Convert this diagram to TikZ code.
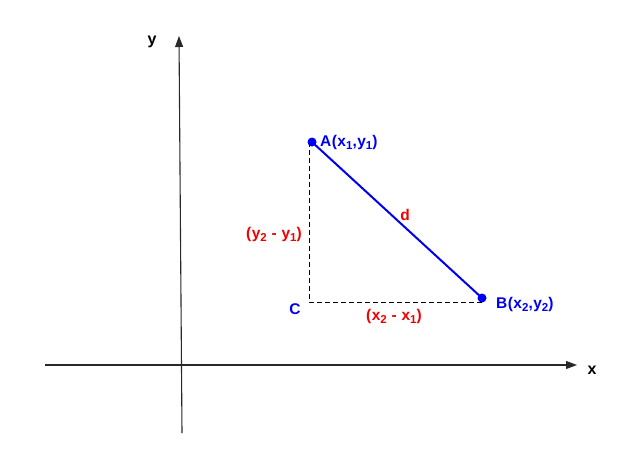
\documentclass[tikz,border=0pt]{standalone}
\usepackage{fontspec}
\setmainfont{Liberation Sans}[LetterSpace=3]
\usetikzlibrary{arrows.meta}
\definecolor{ptblue}{RGB}{0,0,240}
\definecolor{ptred}{RGB}{240,0,0}
\definecolor{axisgray}{RGB}{40,40,40}
\newcommand\sbs[1]{\raisebox{-0.2em}{\fontsize{11.5}{11.5}\selectfont\bfseries #1}}
\tikzset{
  axis/.style={draw=axisgray, line width=1.1pt, -{Triangle[length=11pt,width=8pt]}},
  dot/.style={circle, fill=ptblue, inner sep=0pt, minimum size=9pt},
  seg/.style={draw=ptblue, line width=2pt},
  dashline/.style={draw=black, line width=0.9pt, dash pattern=on 5pt off 3pt},
  lbl/.style={font=\fontsize{15.5}{17}\selectfont\bfseries, inner sep=0pt},
  bl/.style={lbl, text=ptblue},
  rl/.style={lbl, text=ptred},
  kl/.style={lbl, text=black, font=\fontsize{16}{18}\selectfont\bfseries},
}
\begin{document}
\begin{tikzpicture}[x=1pt, y=-1pt]
\useasboundingbox (0,0) rectangle (627,448);
% axes
\coordinate (yb) at (182,433);
\coordinate (yt) at (179,36);
\coordinate (xl) at (45,365);
\coordinate (xr) at (577,365);
\draw[axis] (yb) -- (yt);
\draw[axis] (xl) -- (xr);
\node[kl] (ylab) at (152,42) {y};
\node[kl] (xlab) at (592,370) {x};
% points
\coordinate (C) at (309,302);
\node[dot] (A) at (312,142) {};
\node[dot] (B) at (482,298) {};
\draw[dashline] (A.center -| C) -- (C) -- (C -| B.center);
\draw[seg] (A.center) -- (B.center);
% labels
\node[bl, anchor=west] (Alab) at (320,142) {A(x\sbs{1},y\sbs{1})};
\node[bl, anchor=west] (Blab) at (496,304) {B(x\sbs{2},y\sbs{2})};
\node[bl] (Clab) at (295,309) {C};
\node[rl] (dlab) at (405,215) {d};
\node[rl] (ylen) at (274,234) {(y\sbs{2} - y\sbs{1})};
\node[rl] (xlen) at (394,316) {(x\sbs{2} - x\sbs{1})};
\end{tikzpicture}
\end{document}
